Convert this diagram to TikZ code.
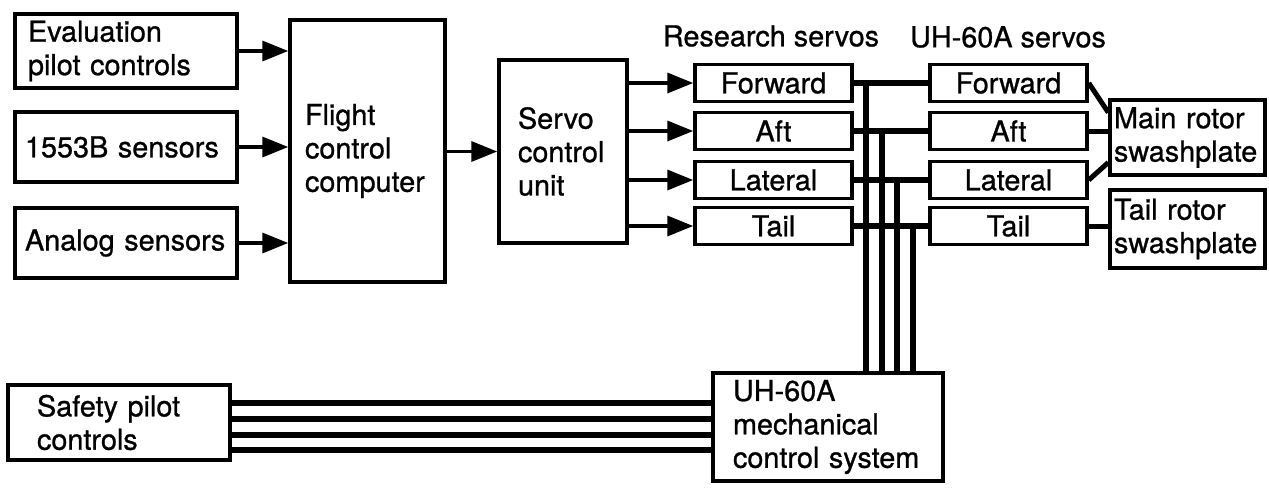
\documentclass[tikz,border=0pt]{standalone}
\usepackage{fontspec}
\setmainfont{TeX Gyre Heros}[FakeBold=0.9]
\usetikzlibrary{arrows.meta,positioning,calc}

\newdimen\pxu \pxu=0.02cm

\tikzset{
  blk/.style={draw, line width=3.5\pxu, inner sep=0pt, align=left,
    font=\fontsize{16.4}{19}\selectfont},
  srv/.style={blk, align=center, minimum width=157\pxu, minimum height=37\pxu},
  hdr/.style={inner sep=0pt, font=\fontsize{16.4}{19}\selectfont},
  feed/.style={line width=3.5\pxu, -{Triangle[length=0.52cm,width=0.4cm]}},
  link/.style={line width=5\pxu},
  bus/.style={line width=6\pxu},
}

\begin{document}
\begin{tikzpicture}[x=0.02cm,y=-0.02cm]
\useasboundingbox (0,0) rectangle (1269,491);

% Inputs
\node[blk, minimum width=222\pxu, minimum height=74\pxu, text width=196\pxu] (evalpc) at (126,51) {Evaluation\\pilot controls};
\node[blk, minimum width=222\pxu, minimum height=70\pxu, text width=202\pxu] (sens1553) at (126,147) {1553B sensors};
\node[blk, minimum width=222\pxu, minimum height=70\pxu, text width=202\pxu] (analog) at (126,243) {Analog sensors};

% Computer and servo control unit
\node[blk, minimum width=155\pxu, minimum height=262\pxu, text width=125\pxu] (fcc) at (367.5,151) {Flight\\control\\computer};
\node[blk, minimum width=128\pxu, minimum height=183\pxu, text width=90\pxu] (scu) at (563,151.5) {Servo\\control\\unit};

\draw[feed] (evalpc.east) -- (evalpc.east -| fcc.west);
\draw[feed] (sens1553.east) -- (sens1553.east -| fcc.west);
\draw[feed] (analog.east) -- (analog.east -| fcc.west);
\draw[feed] (fcc.east |- scu.west) -- (scu.west);

% Research servos
\node[hdr] (rshdr) at (771,36) {Research servos};
\node[srv] (rf) at (773.5,83) {Forward};
\node[srv] (ra) at (773.5,131) {Aft};
\node[srv] (rl) at (773.5,180) {Lateral};
\node[srv] (rt) at (773.5,226) {Tail};

\foreach \s in {rf,ra,rl,rt}
  \draw[feed] (scu.east |- \s.west) -- (\s.west);

% UH-60A servos
\node[hdr] (ushdr) at (1008,37) {UH-60A servos};
\node[srv] (uf) at (1008.5,83) {Forward};
\node[srv] (ua) at (1008.5,131) {Aft};
\node[srv] (ul) at (1008.5,180) {Lateral};
\node[srv] (ut) at (1008.5,226) {Tail};

% Swashplates
\node[blk, minimum width=155\pxu, minimum height=75\pxu, text width=147\pxu] (mainsw) at (1187.5,137.5) {Main rotor\\swashplate};
\node[blk, minimum width=155\pxu, minimum height=78\pxu, text width=147\pxu] (tailsw) at (1187.5,229) {Tail rotor\\swashplate};

\draw[link] (uf.east) -- ([yshift=25\pxu]mainsw.west);
\draw[link] (ua.east) -- (ua.east -| mainsw.west);
\draw[link] (ul.east) -- ([yshift=-25\pxu]mainsw.west);
\draw[link] (ut.east) -- (ut.east -| tailsw.west);

% Mechanical system
\node[blk, minimum width=230\pxu, minimum height=108\pxu, text width=190\pxu] (mech) at (828,427) {UH-60A\\mechanical\\control system};
\node[blk, minimum width=222\pxu, minimum height=75\pxu, text width=164\pxu] (safety) at (119,422.5) {Safety pilot\\controls};

\foreach \r/\u in {rf/uf,ra/ua,rl/ul,rt/ut}
  \draw[bus] (\r.east) -- (\u.west);
\foreach \r/\x in {rf/866,ra/882,rl/897,rt/913}
  \draw[bus] (\r.east -| \x,0) -- (mech.north -| \x,0);
\foreach \y in {403,419,435,450}
  \draw[bus] (safety.east |- 0,\y) -- (mech.west |- 0,\y);
\end{tikzpicture}
\end{document}
